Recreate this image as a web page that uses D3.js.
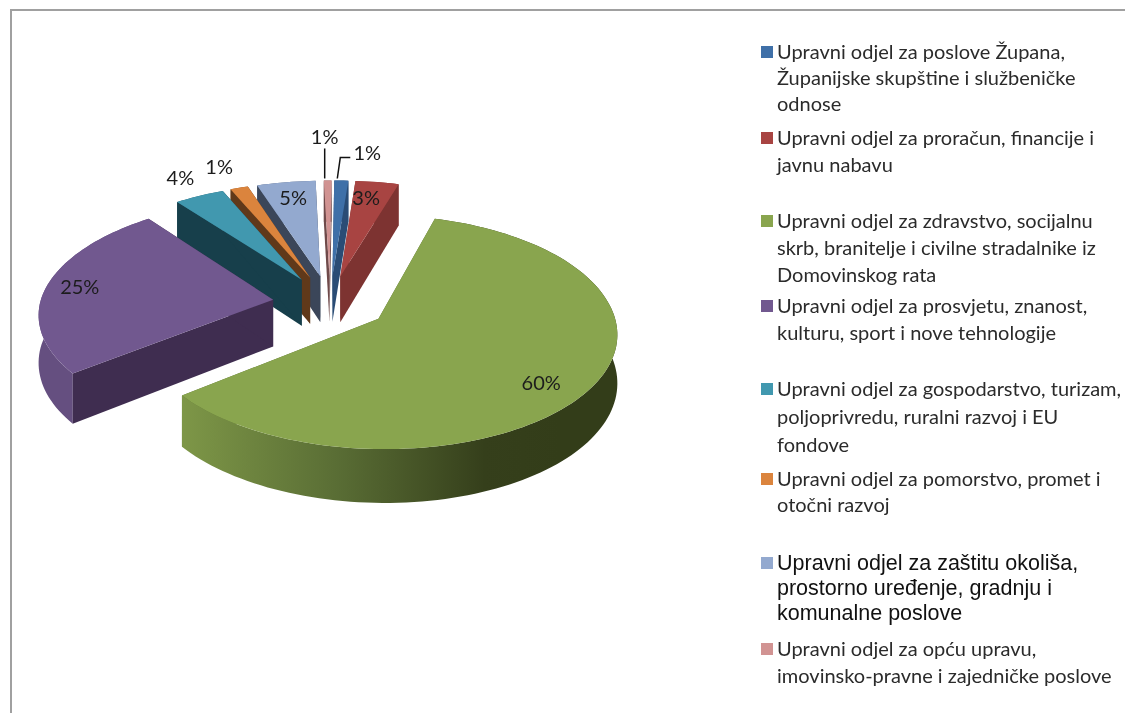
<!DOCTYPE html>
<html>
<head>
<meta charset="utf-8">
<script src="https://cdnjs.cloudflare.com/ajax/libs/d3/7.8.5/d3.min.js"></script>
<style>
  html, body { margin: 0; padding: 0; background: #fff; }
  svg { display: block; filter: blur(0.45px); }
  .legendText { font-family: Lato, "Open Sans", sans-serif; font-size: 20px; fill: #2b2b2b; }
  .legendTextAlt { font-family: "Liberation Sans", Arial, sans-serif; font-size: 21.5px; fill: #111; }
  .pctLabel { font-family: Lato, "Open Sans", sans-serif; font-size: 20px; fill: #1c1c1c; text-anchor: middle; dominant-baseline: middle; }
</style>
</head>
<body>
<div id="chart"></div>
<script>
// shares (labels are these rounded to whole percents)
const shares = [1.1, 3.4, 59.9, 25.1, 3.9, 1.4, 4.6, 0.6]
const legendLines = [
  ["Upravni odjel za poslove Župana,", "Županijske skupštine i službeničke", "odnose"],
  ["Upravni odjel za proračun, financije i", "javnu nabavu"],
  ["Upravni odjel za zdravstvo, socijalnu", "skrb, branitelje i civilne stradalnike iz", "Domovinskog rata"],
  ["Upravni odjel za prosvjetu, znanost,", "kulturu, sport i nove tehnologije"],
  ["Upravni odjel za gospodarstvo, turizam,", "poljoprivredu, ruralni razvoj i EU", "fondove"],
  ["Upravni odjel za pomorstvo, promet i", "otočni razvoj"],
  ["Upravni odjel za zaštitu okoliša,", "prostorno uređenje, gradnju i", "komunalne poslove"],
  ["Upravni odjel za opću upravu,", "imovinsko-pravne i zajedničke poslove"]
]
const topColors = ["#3f70a8", "#a84442", "#89a54e", "#71588f", "#4198af", "#db843d", "#93a9cf", "#d19392"]
const sideColors = ["#2a4c75", "#7d3331", "#5a6e33", "#3f2d50", "#173f4b", "#60391a", "#3b4659", "#6f4a4a"]
const rimColors = ["#2f5480", "#8a3a38", "#7a9346", "#654f80", "#2a6373", "#8f5626", "#5c6d8a", "#8c6362"]

// layout of the chart
const width = 1125, height = 713
const cx = 330, cy = 303        // pie centre on the page
const radiusX = 233             // horizontal radius
const radiusY = 112             // vertical radius before perspective
const perspective = 0.112
const farShift = 2              // far side leans to the right
const explode = 0.247           // how far each slice is pulled out
const depth = 47                // height of the pie
const drawOrder = [1, 0, 7, 6, 5, 4, 3, 2]

// where the percent label sits, relative to the middle of the slice's rim
const labelNudge = [[26, -26], [-11, 18], [-50, -3], [33, 3], [-19, -16], [-20, -19], [7, 18], [-3, -42]]

const svg = d3.select("#chart").append("svg")
  .attr("width", width)
  .attr("height", height)

const defs = svg.append("defs")
let greenGrad = defs.append("linearGradient").attr("id", "greenRim")
  .attr("gradientUnits", "userSpaceOnUse")
  .attr("x1", 184).attr("x2", 560).attr("y1", 0).attr("y2", 0)
greenGrad.append("stop").attr("offset", "0%").attr("stop-color", "#7d9647")
greenGrad.append("stop").attr("offset", "40%").attr("stop-color", "#5a6e35")
greenGrad.append("stop").attr("offset", "80%").attr("stop-color", "#353f1b")
greenGrad.append("stop").attr("offset", "100%").attr("stop-color", "#333d19")

// frame
svg.append("path")
  .attr("d", "M11,713V10H1125")
  .attr("fill", "none")
  .attr("stroke", "#a0a0a0")
  .attr("stroke-width", 2)

function project(u, v, drop) {
  let s = 1 / (1 - perspective * v)
  let x = cx + radiusX * s * u - farShift * Math.min(v, 0)
  let y = cy + radiusY * s * v + (drop ? depth * s : 0)
  return [x, y]
}

const pie = d3.pie().sort(null).value(d => d)
const arcs = pie(shares)
const line = d3.line()

function slicePoints(arc) {
  let mid = (arc.startAngle + arc.endAngle) / 2
  let offU = explode * Math.sin(mid)
  let offV = -explode * Math.cos(mid)
  let steps = Math.max(2, Math.ceil((arc.endAngle - arc.startAngle) / 0.03))
  let angles = d3.range(steps + 1).map(i => arc.startAngle + (arc.endAngle - arc.startAngle) * i / steps)
  let rim = angles.map(a => [offU + Math.sin(a), offV - Math.cos(a)])
  return { apex: [offU, offV], rim: rim, mid: [offU + Math.sin(mid), offV - Math.cos(mid)] }
}

drawOrder.forEach(i => {
  let p = slicePoints(arcs[i])
  let g = svg.append("g").attr("class", "slice")
  let rimTop = p.rim.map(d => project(d[0], d[1], false))
  let rimLow = p.rim.map(d => project(d[0], d[1], true))
  let apexTop = project(p.apex[0], p.apex[1], false)
  let apexLow = project(p.apex[0], p.apex[1], true)

  let drawRim = () => g.append("path")
    .attr("d", line(rimTop.concat(rimLow.slice().reverse())) + "Z")
    .attr("fill", i == 2 ? "url(#greenRim)" : rimColors[i])
  // a near rim hides the flat sides, a far rim sits behind them
  let nearRim = p.mid[1] > 0
  if (!nearRim) drawRim()
  g.append("path")
    .attr("d", line([apexTop, rimTop[0], rimLow[0], apexLow]) + "Z")
    .attr("fill", sideColors[i])
  g.append("path")
    .attr("d", line([apexTop, rimTop[rimTop.length - 1], rimLow[rimLow.length - 1], apexLow]) + "Z")
    .attr("fill", sideColors[i])
  if (nearRim) drawRim()
  g.append("path")
    .attr("d", line([apexTop].concat(rimTop)) + "Z")
    .attr("fill", topColors[i])
})

// percent labels
arcs.forEach((arc, i) => {
  let p = slicePoints(arc)
  let m = project(p.mid[0], p.mid[1], false)
  svg.append("text")
    .attr("class", "pctLabel")
    .attr("x", m[0] + labelNudge[i][0])
    .attr("y", m[1] + labelNudge[i][1])
    .text(Math.max(1, Math.round(shares[i])) + "%")

  // the two thin slices have leader lines
  if (i == 0) {
    svg.append("path").attr("d", line([[m[0] - 4, m[1] - 2], [m[0] - 1, m[1] - 23], [m[0] + 9, m[1] - 23]]))
      .attr("fill", "none").attr("stroke", "#111").attr("stroke-width", 1.5)
  }
  if (i == 7) {
    svg.append("path").attr("d", line([[m[0] - 3, m[1] - 2], [m[0] - 3, m[1] - 32]]))
      .attr("fill", "none").attr("stroke", "#111").attr("stroke-width", 1.5)
  }
})

// legend
const legendTop = [52, 138, 221, 306, 389, 479, 563, 649]
const lineGap = [26, 27, 27, 27, 28, 26, 25, 27]
legendLines.forEach((lines, i) => {
  svg.append("rect")
    .attr("x", 761).attr("y", legendTop[i] - 6)
    .attr("width", 12).attr("height", 12)
    .attr("fill", topColors[i])
  lines.forEach((t, j) => {
    svg.append("text")
      .attr("class", i == 6 ? "legendTextAlt" : "legendText")
      .attr("x", 777)
      .attr("y", legendTop[i] + 7 + j * lineGap[i])
      .text(t)
  })
})
</script>
</body>
</html>
